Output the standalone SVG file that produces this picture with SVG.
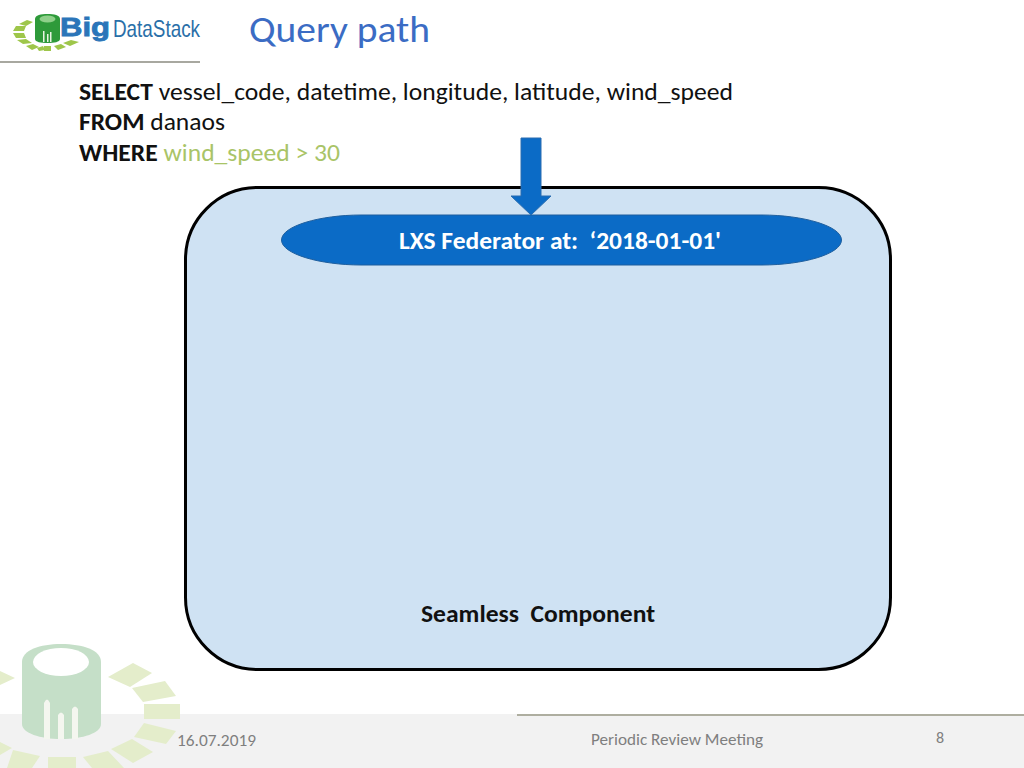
<svg xmlns="http://www.w3.org/2000/svg" width="1024" height="768" viewBox="0 0 1024 768">
<style>
.c{font-family:"Open Sans","Noto Sans","Liberation Sans",sans-serif}
.t{font-family:Carlito,"Open Sans","Noto Sans","Liberation Sans",sans-serif}
.q{font-size:24px;fill:#111}
.b{font-weight:700}
.wm{fill:#e4edcb}
.lg{fill:#9ec64a}
</style>
<rect width="1024" height="768" fill="#fff"/>
<g id="footer">
<rect y="714" width="1024" height="54" fill="#f2f2f2"/>
<rect x="517" y="714" width="507" height="2" fill="#aeaea0"/>
</g>
<g id="watermark">
<path d="M22 662C22 650 40 644 61 644C83 644 101 650 101 662V724C101 733 83 739 61 739C40 739 22 733 22 724Z" fill="#c5dfc8"/>
<ellipse cx="61" cy="662" rx="28" ry="14" fill="#fff"/>
<path d="M44 739V703Q47 696 50 703V739ZM58 739V715Q61 710 64 715V739ZM72 739V709Q75 704 78 709V739Z" fill="#f4f6ef"/>
<polygon class="wm" points="108,677 133,663 152,673 130,687"/>
<polygon class="wm" points="132,688 165,681 176,696 143,702"/>
<polygon class="wm" points="144,704 180,704 180,719 144,719"/>
<polygon class="wm" points="144,723 176,731 166,744 134,737"/>
<polygon class="wm" points="111,749 132,739 153,752 133,763"/>
<polygon class="wm" points="83,757 108,751 124,768 92,768"/>
<polygon class="wm" points="48,757 76,757 76,768 48,768"/>
<polygon class="wm" points="13,750 40,756 32,768 7,768"/>
<polygon class="wm" points="0,742 12,748 0,755"/>
<polygon class="wm" points="0,671 15,678 0,685"/>
</g>
<g id="logo">
<polygon class="lg" points="13,33 24,33 26,38 16,38"/>
<polygon class="lg" points="13,31 16,26 26,26 24,31"/>
<polygon class="lg" points="19,24 27,20 33,22 26,26"/>
<polygon class="lg" points="17,40 26,39 32,43 23,44"/>
<polygon class="lg" points="26,46 33,44 39,47 32,50"/>
<polygon class="lg" points="37,48 43,46 45,50 39,51"/>
<polygon class="lg" points="44,46 51,46 51,51 44,51"/>
<polygon class="lg" points="54,46 61,44 66,47 58,50"/>
<polygon class="lg" points="63,43 71,40 79,42 70,46"/>
<path d="M35 19C35 15 41 14 47.500 14C54 14 60 15 60 19V39C60 42 54 43 47.500 43C41 43 35 42 35 39Z" fill="#2e9a3a"/>
<ellipse cx="47.500" cy="19" rx="8" ry="3.500" fill="#8fd08a"/>
<path d="M43 42V31H44.500V42ZM47 42V34H48.500V42ZM50 42V32H51.500V42Z" fill="#e8f3e2"/>
<text x="60" y="36" font-family="'Liberation Sans',Arial,sans-serif" font-weight="700" font-size="26" fill="#2b75b9" stroke="#2b75b9" stroke-width="0.8" textLength="50" lengthAdjust="spacingAndGlyphs">Big</text>
<text x="113" y="37" font-family="'Liberation Sans',Arial,sans-serif" font-size="24" fill="#2a6fa8" textLength="87" lengthAdjust="spacingAndGlyphs">DataStack</text>
<rect y="61" width="200" height="2" fill="#a8a8a0"/>
</g>
<g id="title"><text class="t" x="249" y="42" font-size="36" fill="#3b6cc4" textLength="181" lengthAdjust="spacingAndGlyphs">Query path</text></g>
<g id="query">
<text class="t q" x="79" y="100" textLength="654" lengthAdjust="spacingAndGlyphs"><tspan class="b">SELECT</tspan> vessel_code, datetime, longitude, latitude, wind_speed</text>
<text class="t q" x="79" y="130" textLength="146" lengthAdjust="spacingAndGlyphs"><tspan class="b">FROM</tspan> danaos</text>
<text class="t q" x="79" y="161" textLength="261" lengthAdjust="spacingAndGlyphs"><tspan class="b">WHERE</tspan> <tspan fill="#a9c467">wind_speed &gt; 30</tspan></text>
</g>
<g id="seamless">
<rect x="185.500" y="187.500" width="705" height="482" rx="72" ry="72" fill="#cfe2f3" stroke="#000" stroke-width="3"/>
<text class="t b" x="538" y="622" font-size="24" fill="#111" text-anchor="middle" textLength="234" lengthAdjust="spacingAndGlyphs" xml:space="preserve">Seamless  Component</text>
</g>
<g id="federator">
<path d="M281.500 240C281.500 226 320 215 361 215H762C803 215 841.500 226 841.500 240C841.500 254 803 265 762 265H361C320 265 281.500 254 281.500 240Z" fill="#0b6bc6" stroke="#1f5f9e"/>
<text class="t b" x="560" y="249" font-size="24" fill="#fff" text-anchor="middle" textLength="322" lengthAdjust="spacingAndGlyphs" xml:space="preserve">LXS Federator at:  ‘2018-01-01'</text>
</g>
<g id="connectors">
<polygon points="521,138 541,138 541,196 551,196 531,215 511,196 521,196" fill="#0b6bc6" stroke="#2a6db0"/>
</g>
<g id="meta">
<text class="t" x="177" y="746" font-size="16" fill="#7f7f7f" textLength="79" lengthAdjust="spacingAndGlyphs">16.07.2019</text>
<text class="t" x="677" y="745" font-size="16" fill="#7f7f7f" text-anchor="middle" textLength="172" lengthAdjust="spacingAndGlyphs">Periodic Review Meeting</text>
<text class="t" x="940" y="743" font-size="16" fill="#7f7f7f" text-anchor="middle">8</text>
</g>
</svg>
